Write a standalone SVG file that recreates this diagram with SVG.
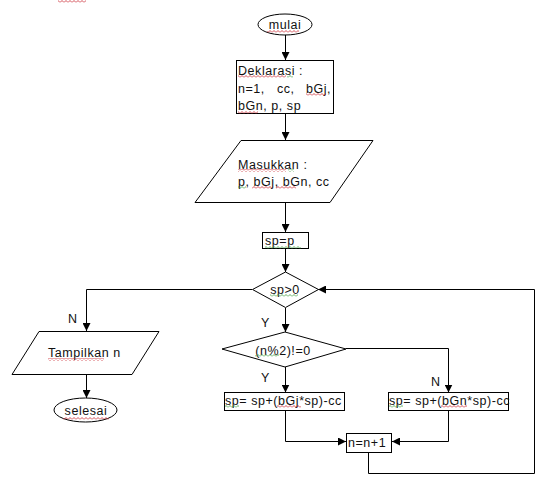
<svg xmlns="http://www.w3.org/2000/svg" width="544" height="484" viewBox="0 0 544 484">
<defs>
<marker id="arr" viewBox="0 0 8 8" refX="8" refY="4" markerWidth="8" markerHeight="8" markerUnits="userSpaceOnUse" orient="auto">
<path d="M0,0 L8,4 L0,8 z" fill="#000"/>
</marker>
<pattern id="wr" width="4" height="3" patternUnits="userSpaceOnUse">
<polyline points="0,2.5 2,0.5 4,2.5" fill="none" stroke="#c8202a" stroke-width="0.8"/>
</pattern>
<pattern id="wg" width="4" height="3" patternUnits="userSpaceOnUse">
<polyline points="0,2.5 2,0.5 4,2.5" fill="none" stroke="#3c9a3c" stroke-width="0.8"/>
</pattern>
</defs>
<style>
.s{fill:#fff;stroke:#000;stroke-width:1}
.t{font-family:"Liberation Sans",Arial,sans-serif;font-size:12.5px;letter-spacing:0.55px;fill:#111}
.m{text-anchor:middle}
.c{fill:none;stroke:#000;stroke-width:1}
.c path{marker-end:url(#arr)}
</style>
<rect width="544" height="484" fill="#fff"/>

<g id="connectors" class="c">
<path d="M285.5,35 V60"/>
<path d="M285.5,113.5 V140"/>
<path d="M285.5,202 V232"/>
<path d="M285.5,248 V272"/>
<path d="M252,289.5 H86.5 V331"/>
<path d="M86.5,374 V398"/>
<path d="M285.5,308 V332"/>
<path d="M285.5,367 V392.5"/>
<path d="M346,348.5 H448.5 V392.5"/>
<path d="M285.5,410.5 V441.5 H346"/>
<path d="M448.5,410.5 V441.5 H392"/>
<path d="M368.5,452 V473.5 H534.5 V289.5 H318"/>
</g>

<g id="mulai">
<ellipse class="s" cx="285" cy="24.5" rx="27" ry="10.5"/>
<text class="t m" x="285" y="29">mulai</text>
</g>

<g id="deklarasi">
<rect class="s" x="236.5" y="60.5" width="97" height="53"/>
<text class="t" x="238" y="75">Deklarasi :</text>
<text class="t" x="238" y="93">n=1,</text>
<text class="t" x="277" y="93">cc,</text>
<text class="t" x="306" y="93">bGj,</text>
<text class="t" x="238" y="110">bGn, p, sp</text>
</g>

<g id="masukkan">
<polygon class="s" points="241,140.5 373,140.5 330,202.5 195,202.5"/>
<text class="t" x="238" y="169">Masukkan :</text>
<text class="t" x="238" y="186">p, bGj, bGn, cc</text>
</g>

<g id="spp">
<rect class="s" x="262.5" y="232.5" width="46" height="16"/>
<text class="t" x="265" y="245">sp=p</text>
</g>

<g id="cond1">
<polygon class="s" points="285.5,272 318.5,289.5 285.5,307.5 252.5,289.5"/>
<text class="t m" x="285" y="294">sp&gt;0</text>
</g>

<g id="tampilkan">
<polygon class="s" points="39,331.5 159,331.5 132,374.5 12,374.5"/>
<text class="t" x="48" y="357">Tampilkan n</text>
</g>

<g id="selesai">
<ellipse class="s" cx="85.5" cy="410" rx="31.5" ry="12"/>
<text class="t m" x="86" y="415">selesai</text>
</g>

<g id="cond2">
<polygon class="s" points="285,332 346,349 285,367 222,349"/>
<text class="t m" x="283" y="355">(n%2)!=0</text>
</g>

<g id="odd">
<rect class="s" x="224.5" y="392.5" width="120" height="18"/>
<text class="t" x="225" y="405">sp= sp+(bGj*sp)-cc</text>
</g>

<g id="even">
<rect class="s" x="388.5" y="392.5" width="120" height="18"/>
<text class="t" x="389" y="405">sp= sp+(bGn*sp)-cc</text>
</g>

<g id="inc">
<rect class="s" x="346.5" y="433.5" width="45" height="19"/>
<text class="t" x="348" y="447">n=n+1</text>
</g>

<g id="labels">
<text class="t" x="68" y="323">N</text>
<text class="t" x="261" y="327">Y</text>
<text class="t" x="261" y="382">Y</text>
<text class="t" x="431" y="386">N</text>
</g>

<g id="spellcheck">
<rect x="58" y="0" width="28" height="3" fill="url(#wr)"/>
<rect x="267" y="30" width="32" height="3" fill="url(#wr)"/>
<rect x="238" y="75" width="48" height="3" fill="url(#wr)"/>
<rect x="287" y="75" width="6" height="3" fill="url(#wg)"/>
<rect x="306" y="93" width="20" height="3" fill="url(#wr)"/>
<rect x="238" y="111" width="20" height="3" fill="url(#wr)"/>
<rect x="238" y="169" width="48" height="3" fill="url(#wr)"/>
<rect x="288" y="169" width="6" height="3" fill="url(#wg)"/>
<rect x="238" y="186" width="8" height="3" fill="url(#wg)"/>
<rect x="252" y="186" width="20" height="3" fill="url(#wr)"/>
<rect x="276" y="186" width="20" height="3" fill="url(#wr)"/>
<rect x="265" y="246" width="36" height="3" fill="url(#wg)"/>
<rect x="270" y="294" width="28" height="3" fill="url(#wg)"/>
<rect x="48" y="358" width="56" height="3" fill="url(#wr)"/>
<rect x="63" y="417" width="46" height="3" fill="url(#wr)"/>
<rect x="255" y="354" width="24" height="3" fill="url(#wg)"/>
<rect x="225" y="405" width="14" height="3" fill="url(#wg)"/>
<rect x="277" y="405" width="24" height="3" fill="url(#wr)"/>
<rect x="389" y="405" width="14" height="3" fill="url(#wg)"/>
<rect x="441" y="405" width="26" height="3" fill="url(#wr)"/>
</g>
</svg>
